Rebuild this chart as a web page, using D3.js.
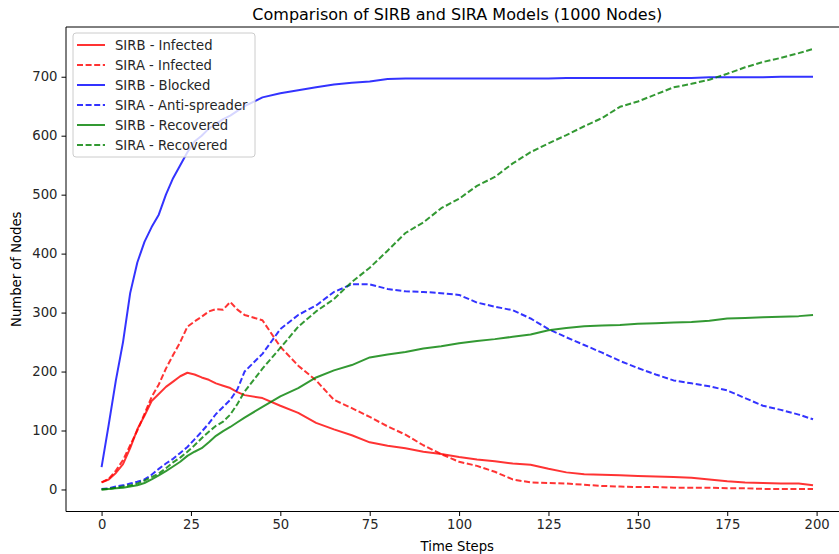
<!DOCTYPE html>
<html>
<head>
<meta charset="utf-8">
<script src="https://cdn.jsdelivr.net/npm/d3@7"></script>
<style>
  body { margin: 0; background: #fff; }
  text { font-family: "DejaVu Sans", sans-serif; }
</style>
</head>
<body>
<div id="chart"></div>
<script>
// time steps the values were read at
const steps = [0,2,4,6,8,10,12,14,16,18,20,22,24,26,28,30,32,34,36,38,40,
  45,50,55,60,65,70,75,80,85,90,95,100,105,110,115,120,125,130,135,140,145,150,
  155,160,165,170,175,180,185,190,195,199];

const sirbInfected = [12,17,28,43,70,102,125,150,162,174,183,192,198,195,190,186,180,176,172,165,160,
  155,142,130,113,102,92,80,74,70,64,60,55,51,48,44,42,35,29,26,25,24,23,
  22,21,20,17,14,12,11,10,10,7];
const siraInfected = [12,18,32,50,75,100,128,157,178,205,228,250,276,285,293,302,306,305,318,305,296,
  287,242,210,185,152,138,123,107,93,75,60,47,40,30,17,12,11,10,8,6,5,4,
  4,3,3,3,2,2,1,1,1,1];
const sirbBlocked = [38,110,185,250,333,385,420,445,466,500,528,550,572,590,600,612,620,628,634,642,650,
  665,672,677,682,687,690,692,696,697,697,697,697,697,697,697,697,697,698,698,698,698,698,
  698,698,698,699,699,699,699,700,700,700];
const siraAnti = [1,2,5,7,10,13,17,25,35,44,52,62,72,85,98,112,128,140,152,170,200,
  230,272,296,312,335,348,348,340,336,335,333,330,317,310,304,290,272,258,245,232,218,206,
  195,185,180,175,168,155,142,135,127,119];
const sirbRecovered = [0,1,2,3,5,7,11,17,24,31,39,47,57,64,70,80,91,99,106,114,122,
  140,158,172,190,202,211,224,229,233,239,243,248,252,255,259,263,270,274,277,278,279,281,
  282,283,284,286,290,291,292,293,294,296];
const siraRecovered = [0,1,3,5,7,10,15,21,27,36,46,54,64,75,87,98,108,115,127,145,166,
  205,240,276,302,323,352,376,405,435,453,477,493,515,530,553,572,587,601,616,630,649,658,
  670,682,688,695,705,716,725,732,740,747];

const seriesNames = ["SIRB - Infected", "SIRA - Infected", "SIRB - Blocked",
  "SIRA - Anti-spreader", "SIRB - Recovered", "SIRA - Recovered"];
const seriesColors = ["red", "red", "blue", "blue", "green", "green"];
const seriesDashed = [false, true, false, true, false, true];
const seriesValues = [sirbInfected, siraInfected, sirbBlocked, siraAnti, sirbRecovered, siraRecovered];

const xTicks = [0, 25, 50, 75, 100, 125, 150, 175, 200];
const yTicks = [0, 100, 200, 300, 400, 500, 600, 700];

const W = 839, H = 554;
const plot = {left: 66, top: 27, right: 848.6, bottom: 511.5};

const svg = d3.select("#chart").append("svg")
  .attr("width", W).attr("height", H);

// matplotlib-like 5% margins
const xMin = 0, xMax = 199;
const yMax = d3.max(seriesValues, s => d3.max(s));
const xPad = (xMax - xMin) * 0.05, yPad = yMax * 0.05;

const x = d3.scaleLinear().domain([xMin - xPad, xMax + xPad]).range([plot.left, plot.right]);
const y = d3.scaleLinear().domain([-yPad, yMax + yPad]).range([plot.bottom, plot.top]);

svg.append("defs").append("clipPath").attr("id", "clip-rect")
  .append("rect")
  .attr("x", plot.left).attr("y", plot.top)
  .attr("width", plot.right - plot.left).attr("height", plot.bottom - plot.top);

// lines
const line = d3.line()
  .x((d, i) => x(steps[i]))
  .y(d => y(d));

const lines = svg.append("g").attr("clip-path", "url(#clip-rect)");
seriesValues.forEach((vals, k) => {
  lines.append("path")
    .datum(vals)
    .attr("fill", "none")
    .attr("stroke", seriesColors[k])
    .attr("stroke-opacity", 0.8)
    .attr("stroke-width", 2)
    .attr("stroke-linejoin", "round")
    .attr("stroke-dasharray", seriesDashed[k] ? "6,2.6" : null)
    .attr("d", line);
});

// axes
const axisX = d3.axisBottom(x).tickValues(xTicks).tickSize(4.5).tickSizeOuter(0).tickPadding(4);
const axisY = d3.axisLeft(y).tickValues(yTicks).tickSize(4.5).tickSizeOuter(0).tickPadding(4);

const gx = svg.append("g").attr("transform", `translate(0,${plot.bottom})`).call(axisX);
const gy = svg.append("g").attr("transform", `translate(${plot.left},0)`).call(axisY);
[gx, gy].forEach(g => {
  g.select(".domain").remove();
  g.selectAll("line").attr("stroke", "#000").attr("stroke-width", 1);
  g.selectAll("text").attr("font-size", 13.2).attr("fill", "#262626")
    .style("font-family", "'DejaVu Sans', sans-serif");
});

// spines
const spine = svg.append("g").attr("stroke", "#000").attr("stroke-width", 1).attr("fill", "none");
spine.append("line").attr("x1", plot.left).attr("x2", plot.left).attr("y1", plot.top).attr("y2", plot.bottom);
spine.append("line").attr("x1", plot.left).attr("x2", plot.right).attr("y1", plot.bottom).attr("y2", plot.bottom);
spine.append("line").attr("x1", plot.left).attr("x2", plot.right).attr("y1", plot.top).attr("y2", plot.top);
spine.append("line").attr("x1", plot.right).attr("x2", plot.right).attr("y1", plot.top).attr("y2", plot.bottom);

// title and labels
const cx = (plot.left + plot.right) / 2;
svg.append("text").attr("x", cx).attr("y", 20)
  .attr("text-anchor", "middle").attr("font-size", 16).attr("fill", "#000")
  .text("Comparison of SIRB and SIRA Models (1000 Nodes)");
svg.append("text").attr("x", cx).attr("y", 551)
  .attr("text-anchor", "middle").attr("font-size", 13.2).attr("fill", "#000")
  .text("Time Steps");
svg.append("text")
  .attr("transform", `translate(21,${(plot.top + plot.bottom) / 2}) rotate(-90)`)
  .attr("text-anchor", "middle").attr("font-size", 13.2).attr("fill", "#000")
  .text("Number of Nodes");

// legend
const legend = svg.append("g").attr("transform", "translate(73,33)");
legend.append("rect")
  .attr("width", 182).attr("height", 124).attr("rx", 3)
  .attr("fill", "#fff").attr("fill-opacity", 0.8)
  .attr("stroke", "#ccc").attr("stroke-width", 1);
const items = legend.selectAll("g.item").data(seriesNames).enter().append("g")
  .attr("class", "item")
  .attr("transform", (d, i) => `translate(0,${12 + i * 20})`);
items.append("line")
  .attr("x1", 4).attr("x2", 32)
  .attr("stroke", (d, i) => seriesColors[i])
  .attr("stroke-opacity", 0.8)
  .attr("stroke-width", 2)
  .attr("stroke-dasharray", (d, i) => seriesDashed[i] ? "6,2.6" : null);
items.append("text")
  .attr("x", 42).attr("y", 5)
  .attr("font-size", 13.2).attr("fill", "#262626")
  .text(d => d);
</script>
</body>
</html>
